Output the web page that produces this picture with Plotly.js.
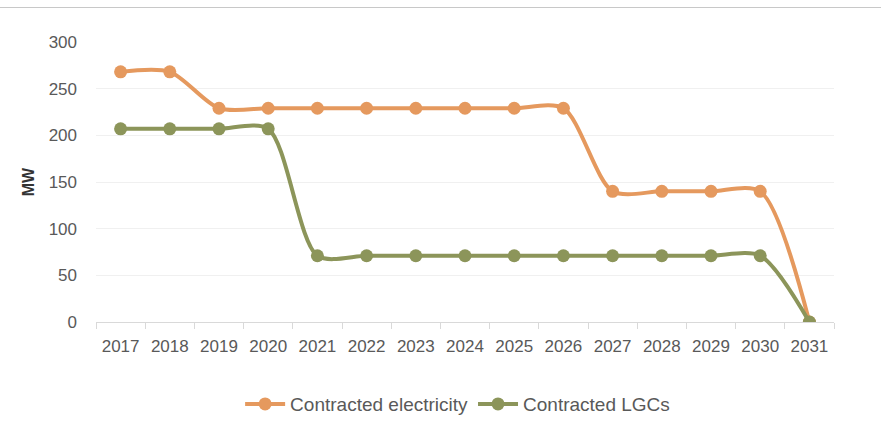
<!DOCTYPE html>
<html>
<head>
<meta charset="utf-8">
<script src="https://cdn.plot.ly/plotly-3.0.1.min.js"></script>
<style>
  html, body { margin: 0; padding: 0; background: #fff; }
  #chart { width: 881px; height: 422px; position: relative; }
  #topline { position: absolute; left: 0; top: 7px; width: 881px; height: 1px; background: #c8c8c8; z-index: 10; }
</style>
</head>
<body>
<div id="chart"><div id="topline"></div></div>
<script>
const years = ["2017","2018","2019","2020","2021","2022","2023","2024","2025","2026","2027","2028","2029","2030","2031"];
const electricity = [268, 268, 229, 229, 229, 229, 229, 229, 229, 229, 140, 140, 140, 140, 0];
const lgcs = [207, 207, 207, 207, 71, 71, 71, 71, 71, 71, 71, 71, 71, 71, 0];
const yTicks = [0, 50, 100, 150, 200, 250, 300];

const font = "'Liberation Sans', Arial, sans-serif";

const traces = [
  {
    x: years, y: electricity, name: "Contracted electricity",
    type: "scatter", mode: "lines+markers",
    line: { color: "#E5995E", width: 4, shape: "spline", smoothing: 0.8 },
    marker: { color: "#E5995E", size: 13 }
  },
  {
    x: years, y: lgcs, name: "Contracted LGCs",
    type: "scatter", mode: "lines+markers",
    line: { color: "#8C955A", width: 4, shape: "spline", smoothing: 0.8 },
    marker: { color: "#8C955A", size: 13 }
  }
];

const layout = {
  width: 881, height: 422,
  margin: { l: 96, r: 47, t: 42, b: 100, autoexpand: false },
  paper_bgcolor: "#fff", plot_bgcolor: "#fff",
  font: { family: font, size: 17, color: "#595959" },
  showlegend: true,
  legend: {
    orientation: "h", x: 0.49, xanchor: "center", y: -0.293, yanchor: "middle",
    font: { family: font, size: 19, color: "#595959" },
    tracegroupgap: 0, itemwidth: 40
  },
  xaxis: {
    type: "category", tickmode: "array", tickvals: years, ticktext: years,
    showgrid: false, showline: true, linecolor: "#d9d9d9", linewidth: 1,
    ticks: "outside", ticklen: 6, tickcolor: "#d9d9d9", tickson: "boundaries",
    range: [-0.5, 14.5], zeroline: false, ticklabelstandoff: 9,
    tickfont: { family: font, size: 17, color: "#595959" }
  },
  yaxis: {
    range: [0, 300], tickmode: "array", tickvals: yTicks,
    showgrid: true, gridcolor: "#f0f0f0", gridwidth: 1,
    zeroline: false, showline: false, ticks: "", ticklabelstandoff: 18,
    tickfont: { family: font, size: 17, color: "#595959" },
    title: { text: "<b>MW</b>", font: { family: font, size: 16, color: "#333" }, standoff: 10 }
  }
};

Plotly.newPlot("chart", traces, layout, { displayModeBar: false, staticPlot: true });
</script>
</body>
</html>
